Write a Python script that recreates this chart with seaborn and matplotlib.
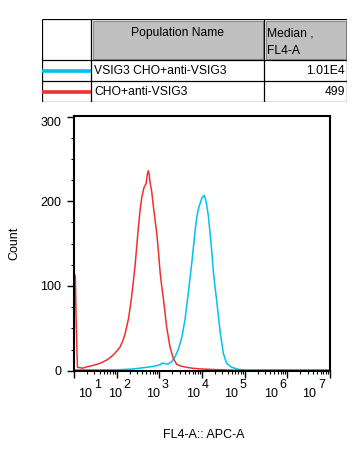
import numpy as np
import pandas as pd
import matplotlib
matplotlib.use("Agg")
import matplotlib.pyplot as plt
import matplotlib.ticker as mticker
from matplotlib.patches import Rectangle
import seaborn as sns

# === Data (log10 of FL4-A, count) ===
red_log = [1.00, 1.03, 1.05, 1.08, 1.20, 1.30, 1.38, 1.50, 1.61, 1.77, 1.92, 2.00,
           2.08, 2.15, 2.20, 2.28, 2.35, 2.43, 2.51, 2.55, 2.59, 2.64, 2.69, 2.72,
           2.74, 2.76, 2.78, 2.82, 2.86, 2.90, 2.94, 2.98, 3.02, 3.06, 3.10, 3.17,
           3.25, 3.33, 3.41, 3.50, 3.57, 3.70, 3.80, 4.00, 4.20, 4.50, 4.80, 5.00, 7.00]
red_count = [115, 112, 60, 4, 3, 4.5, 5.4, 7, 8.7, 12.6, 18.5, 23,
             28, 36, 44, 62, 87, 123, 170, 190, 205, 216, 221, 232,
             236, 232, 223, 212, 194, 178, 162, 140, 115, 98, 83, 52,
             28, 14, 7.5, 5.5, 4.7, 3.5, 2.8, 2, 1.5, 1, 0.5, 0, 0]

blue_log = [1.00, 2.00, 2.38, 2.70, 2.85, 3.02, 3.06, 3.15, 3.21, 3.29, 3.37, 3.45,
            3.53, 3.60, 3.68, 3.76, 3.84, 3.88, 3.92, 3.96, 4.00, 4.05, 4.08, 4.11,
            4.15, 4.19, 4.23, 4.27, 4.31, 4.35, 4.39, 4.43, 4.47, 4.50, 4.54, 4.58,
            4.64, 4.70, 4.85, 5.00, 7.00]
blue_count = [1, 1, 2, 4, 5, 7, 9, 8, 8, 10.6, 16.5, 26,
              40, 60, 92, 127, 166, 182, 192, 198, 204, 207, 203, 196,
              182, 162, 140, 115, 97, 80, 62, 44, 31, 20.5, 14, 8.7,
              6, 4, 1.6, 1, 1]

populations = ["VSIG3 CHO+anti-VSIG3", "CHO+anti-VSIG3"]
medians = ["1.01E4", "499"]
colors = ["#00c0f0", "#f03030"]

decades = [1, 2, 3, 4, 5, 6, 7]
decade_label_pos = [1.26, 1.96, 2.85, 3.79, 4.69, 5.62, 6.52]
y_ticks = [0, 100, 200, 300]

sns.set_style("ticks")
plt.rcParams["font.family"] = ["Liberation Sans", "DejaVu Sans"]
plt.rcParams["text.color"] = "black"
plt.rcParams["axes.labelcolor"] = "black"
plt.rcParams["xtick.color"] = "black"
plt.rcParams["ytick.color"] = "black"

FS = 9
TFS = 8.7

fig = plt.figure(figsize=(3.6, 4.54), dpi=100)
ax = fig.add_axes([74 / 360, 1 - 370.7 / 454, 256 / 360, 255 / 454])
ax.set_xscale("log")

red_df = pd.DataFrame({"x": np.power(10.0, red_log), "count": red_count})
blue_df = pd.DataFrame({"x": np.power(10.0, blue_log), "count": blue_count})
sns.lineplot(data=blue_df, x="x", y="count", color=colors[0], lw=1.1, ax=ax)
sns.lineplot(data=red_df, x="x", y="count", color=colors[1], lw=1.1, ax=ax)

ax.set_xlim(10, 1e7)
ax.set_ylim(0, 301)

# x axis: decades + log minors, labels drawn by hand (FlowJo style offsets)
ax.xaxis.set_major_locator(mticker.FixedLocator([10.0 ** d for d in decades]))
ax.xaxis.set_minor_locator(mticker.LogLocator(base=10, subs=np.arange(2, 10), numticks=20))
ax.xaxis.set_major_formatter(mticker.NullFormatter())
ax.xaxis.set_minor_formatter(mticker.NullFormatter())
for d, pos in zip(decades, decade_label_pos):
    xx = 10.0 ** pos
    ax.annotate("10", xy=(xx, -0.091), xycoords=("data", "axes fraction"),
                ha="center", va="center", fontsize=FS, annotation_clip=False)
    ax.annotate(str(d), xy=(xx, -0.091), xycoords=("data", "axes fraction"),
                xytext=(8.5, 9), textcoords="offset pixels",
                ha="left", va="center", fontsize=FS, annotation_clip=False)

ax.set_yticks(y_ticks)
ax.yaxis.set_minor_locator(mticker.MultipleLocator(25))
ax.tick_params(axis="both", which="major", length=5, width=1, color="black",
               labelsize=FS, pad=4)
ax.tick_params(axis="both", which="minor", length=2.5, width=0.8, color="black")
ylabs = ax.set_yticklabels([str(v) for v in y_ticks])
ylabs[-1].set_va("top")

for side in ["left", "bottom", "top", "right"]:
    ax.spines[side].set_visible(True)
    ax.spines[side].set_color("black")
    ax.spines[side].set_linewidth(1.5)

ax.set_xlabel("FL4-A:: APC-A", fontsize=FS)
ax.set_ylabel("Count", fontsize=FS)
ax.xaxis.set_label_coords(0.508, -0.229)
ax.yaxis.set_label_coords(-0.211, 0.5)

# === Legend table on top ===
tab = fig.add_axes([42.3 / 360, 1 - 102.3 / 454, 305 / 360, 83 / 454])
tab.set_xlim(0, 305)
tab.set_ylim(83, 0)
tab.axis("off")

col_x = [0, 48.7, 221.7, 305]
row_y = [0, 41, 62, 83]
# gray header cells with a bevel edge
tab.add_patch(Rectangle((col_x[1] + 1.5, 1.5), col_x[2] - col_x[1] - 3, row_y[1] - 3,
                        facecolor="#c0c0c0", edgecolor="#8c8c8c", lw=0.8))
tab.add_patch(Rectangle((col_x[2] + 1.5, 1.5), col_x[3] - col_x[2] - 3, row_y[1] - 3,
                        facecolor="#c0c0c0", edgecolor="#8c8c8c", lw=0.8))
for x in col_x:
    tab.plot([x, x], [0, 83], color="black", lw=0.9, solid_capstyle="butt")
for y in row_y:
    tab.plot([0, 305], [y, y], color="black", lw=0.9, solid_capstyle="butt")

tab.text((col_x[1] + col_x[2]) / 2, 13.7, "Population Name", ha="center", va="center", fontsize=TFS)
tab.text(224.7, 13.7, "Median ,", ha="left", va="center", fontsize=TFS)
tab.text(224.7, 31.7, "FL4-A", ha="left", va="center", fontsize=TFS)
for i, (name, med, col) in enumerate(zip(populations, medians, colors)):
    yc = (row_y[i + 1] + row_y[i + 2]) / 2
    tab.plot([0, col_x[1]], [yc, yc], color=col, lw=2.6, solid_capstyle="butt")
    tab.text(51.7, yc, name, ha="left", va="center", fontsize=TFS)
    tab.text(302.7, yc, med, ha="right", va="center", fontsize=TFS)

fig.savefig("out.png", dpi=100)
